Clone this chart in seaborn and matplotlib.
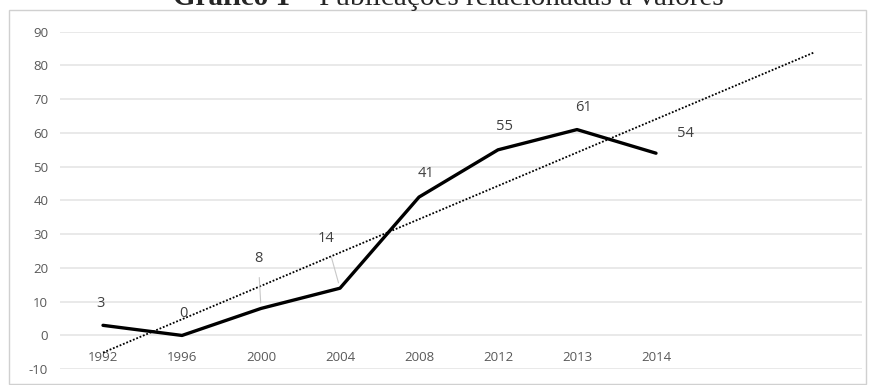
import matplotlib
matplotlib.use("Agg")
import matplotlib.pyplot as plt
from matplotlib.patches import Rectangle
import seaborn as sns
import pandas as pd

# Publication counts per year
years = ["1992", "1996", "2000", "2004", "2008", "2012", "2013", "2014"]
publicacoes = [3, 0, 8, 14, 41, 55, 61, 54]
y_ticks = [-10, 0, 10, 20, 30, 40, 50, 60, 70, 80, 90]

title_bold = "Gráfico 1"
title_rest = " – Publicações relacionadas a valores"

df = pd.DataFrame({"pos": range(1, len(years) + 1), "ano": years, "n": publicacoes})

sns.set_style("white")
plt.rcParams["font.family"] = ["Open Sans", "DejaVu Sans"]

W, H = 871, 385
fig = plt.figure(figsize=(W / 100, H / 100), dpi=100)

# plot area in pixel coordinates
px_left, px_right, px_top, px_bottom = 60, 862, 31.7, 369.2
ax = fig.add_axes([px_left / W, 1 - px_bottom / H,
                   (px_right - px_left) / W, (px_bottom - px_top) / H])

step = 79.0  # pixels between categories
first = 103.0
xlim = (1 - (first - px_left) / step, 1 + (px_right - first) / step)

# linear trend extended two periods forward
ax.set_xlim(1, len(years) + 2)
sns.regplot(data=df, x="pos", y="n", ax=ax, scatter=False, ci=None,
            truncate=False, color="black",
            line_kws=dict(ls=(0, (1, 1)), lw=1.3, zorder=2))

sns.lineplot(data=df, x="pos", y="n", ax=ax, color="black", lw=2.4, zorder=3)

ax.set_xlim(*xlim)
ax.set_ylim(-10, 90)
ax.set_yticks(y_ticks)
ax.set_yticklabels([str(v) for v in y_ticks])
ax.set_xticks(df["pos"])
ax.set_xticklabels(years)
ax.grid(axis="y", color="#e3e3e3", lw=1.1)
ax.grid(axis="x", visible=False)
ax.set_xlabel("")
ax.set_ylabel("")
for s in ax.spines.values():
    s.set_visible(False)
ax.spines["bottom"].set_position(("data", 0))
ax.tick_params(axis="y", length=0, pad=8.5, labelsize=9.5, labelcolor="#595959")
ax.tick_params(axis="x", length=0, pad=11, labelsize=9.5, labelcolor="#595959")

# data labels (offsets in points)
offsets = [(-2, 16), (1, 16), (-2, 36), (-10, 36), (5, 17), (5, 17), (5, 16), (21, 14)]
leaders = {2, 3}
for i, (p, v) in enumerate(zip(df["pos"], df["n"])):
    dx, dy = offsets[i]
    arrow = None
    if i in leaders:
        arrow = dict(arrowstyle="-", color="#c8c8c8", lw=0.8, shrinkA=6, shrinkB=4)
    ax.annotate(str(v), (p, v), xytext=(dx, dy), textcoords="offset points",
                ha="center", va="center", fontsize=10.5, color="#404040",
                arrowprops=arrow, zorder=4)

# outer chart frame
fig.patches.append(Rectangle((9 / W, 1 - 384 / H), (866 - 9) / W, (384 - 10) / H,
                             transform=fig.transFigure, fill=False,
                             ec="#d0d0d0", lw=1.0))

# title: bold prefix followed by regular text
fig.canvas.draw()
r = fig.canvas.get_renderer()
fs = 21
tb = fig.text(0, 0, title_bold, family="Liberation Serif", weight="bold", fontsize=fs)
tr = fig.text(0, 0, title_rest, family="Liberation Serif", fontsize=fs)
wb = tb.get_window_extent(r).width
wr = tr.get_window_extent(r).width
x0 = 448 - (wb + wr) / 2
base = 1 - 5 / H
tb.set_position((x0 / W, base))
tb.set_va("baseline")
tr.set_position(((x0 + wb) / W, base))
tr.set_va("baseline")

fig.savefig("out.png", dpi=100)
